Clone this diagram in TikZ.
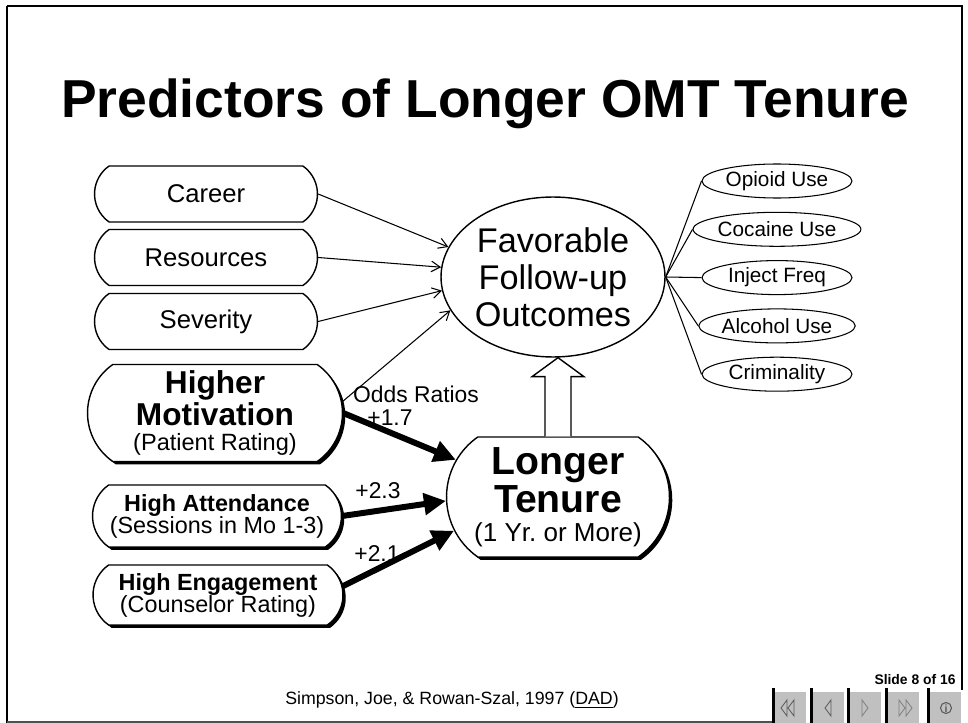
\documentclass[tikz,border=0pt]{standalone}
\usepackage{fontspec}
\setmainfont{Liberation Sans}
\usetikzlibrary{shapes.misc,shapes.geometric,arrows.meta,shadows,calc}
\definecolor{btngray}{RGB}{192,192,192}
\definecolor{symgray}{RGB}{90,90,90}
\definecolor{linegray}{RGB}{80,80,80}
\frenchspacing
\tikzset{
  pill/.style={draw, line width=0.8pt, fill=white, rounded rectangle,
    rounded rectangle arc length=110, inner sep=0pt, align=center},
  shadowpill/.style={pill, drop shadow={shadow xshift=1.6pt, shadow yshift=-1.6pt,
    fill=black, opacity=1}},
  smallpill/.style={pill, minimum width=4.46cm, minimum height=1.12cm,
    font=\fontsize{14.6}{16}\selectfont},
  outcome/.style={draw, ellipse, line width=0.6pt, minimum width=3cm,
    minimum height=0.68cm, inner sep=0pt, font=\fontsize{11.8}{12}\selectfont},
  ratio/.style={font=\fontsize{13}{14}\selectfont, inner sep=0pt},
  thinarrow/.style={-{Straight Barb[length=5pt,width=6pt]}, line width=0.6pt},
  thickarrow/.style={-{Triangle[length=12.5pt,width=12pt]}, line width=3.4pt},
}
\begin{document}
\begin{tikzpicture}[x=0.02cm,y=-0.02cm]
\useasboundingbox (0,0) rectangle (968,723);
% slide frame
\draw[line width=1.7pt] (7,723) -- (7,6);
\draw[line width=1pt] (7,6) -- (962,6) -- (962,690);
\draw[line width=1pt, linegray] (7,722) -- (772,722);
\node[anchor=base, inner sep=0pt] (title) at (485,118)
  {\fontsize{30.4}{30}\selectfont\bfseries Predictors of Longer OMT Tenure};
% predictors
\node[smallpill] (career) at (206,194) {Career};
\node[smallpill] (resources) at (206,257.5) {Resources};
\node[smallpill] (severity) at (206,321.5) {Severity};
\node[shadowpill, minimum width=5.1cm, minimum height=1.94cm,
  font=\fontsize{18}{18.1}\selectfont\bfseries] (motiv) at (215,413)
  {Higher\\Motivation\\[-3.4pt]\fontsize{13.4}{14}\selectfont\mdseries (Patient Rating)};
\node[shadowpill, minimum width=4.98cm, minimum height=1.24cm,
  font=\fontsize{13.3}{12.5}\selectfont] (attend) at (217,516)
  {{\bfseries High Attendance}\\(Sessions in Mo 1-3)};
\node[shadowpill, minimum width=5cm, minimum height=1.2cm,
  font=\fontsize{13.3}{12.5}\selectfont] (engage) at (218,595)
  {{\bfseries High Engagement}\\(Counselor Rating)};
% outcomes
\node[draw, ellipse, line width=0.8pt, minimum width=4.48cm, minimum height=3.2cm,
  inner sep=0pt, align=center, font=\fontsize{19.5}{21}\selectfont] (fav) at (553,277)
  {Favorable\\Follow-up\\Outcomes};
\node[shadowpill, minimum width=4.46cm, minimum height=2.4cm,
  font=\fontsize{22.3}{21.5}\selectfont\bfseries] (tenure) at (558,497)
  {Longer\\Tenure\\[-5.1pt]\fontsize{14.8}{16}\selectfont\mdseries (1 Yr. or More)};
\foreach \name/\txt [count=\i] in {opioid/Opioid Use, cocaine/Cocaine Use,
  inject/Inject Freq, alcohol/Alcohol Use, crime/Criminality}
  \node[outcome] (\name) at (777,{181+48.3*(\i-1)}) {\txt};
\foreach \name in {opioid,cocaine,inject,alcohol,crime}
  \draw[line width=0.6pt] (fav.east) -- (\name.west);
% arrows
\foreach \src/\ang in {career/164, resources/175, severity/187}
  \draw[thinarrow] (\src.east) -- (fav.\ang);
\node[ratio] (odds) at (416,394) {Odds Ratios};
\node[ratio] (r1) at (390,418) {+1.7};
\node[ratio] (r2) at (378,491) {+2.3};
\node[ratio] (r3) at (377,554) {+2.1};
\draw[thinarrow] (motiv.5) -- (fav.198);
\draw[thickarrow] (motiv.east) -- (tenure.160);
\draw[thickarrow] (attend.east) -- (tenure.182);
\draw[thickarrow] (engage.4) -- (tenure.198);
\draw[line width=0.8pt, fill=white] ($(tenure.north)+(-13,0)$)
  -- ($(tenure.north|-fav.south)+(-13,19)$) -- ++(-13,0)
  -- (tenure.north|-fav.south) -- ++(26,19) -- ++(-13,0)
  -- ($(tenure.north)+(13,0)$);
% footer
\node[font=\fontsize{10.1}{12}\selectfont, inner sep=0pt] (cite) at (452,700)
  {Simpson, Joe, \& Rowan-Szal, 1997 (\underline{DAD})};
\node[font=\fontsize{7.9}{9}\selectfont\bfseries, inner sep=0pt] (slide) at (915,680)
  {Slide 8 of 16};
\foreach \x in {775,813,850,888,930} {
  \fill[black] (\x-3,688) rectangle (\x,723);
  \fill[btngray] (\x,692) rectangle (\x+31,723);
}
\draw[symgray, line width=0.5pt] (787,700) -- (781,708) -- (787,716) -- cycle
  (794,700) -- (788,708) -- (794,716) -- cycle;
\draw[symgray, line width=0.5pt] (831,700) -- (825,708) -- (831,716) -- cycle;
\draw[gray, line width=0.5pt] (862,700) -- (868,708) -- (862,716) -- cycle;
\draw[gray, line width=0.5pt] (899,700) -- (905,708) -- (899,716) -- cycle
  (906,700) -- (912,708) -- (906,716) -- cycle;
\draw[symgray, line width=0.6pt] (946,708) circle (5.5);
\node[font=\fontsize{6}{6}\selectfont\bfseries, text=symgray, inner sep=0pt] (info) at (946,708.5) {i};
\end{tikzpicture}
\end{document}
